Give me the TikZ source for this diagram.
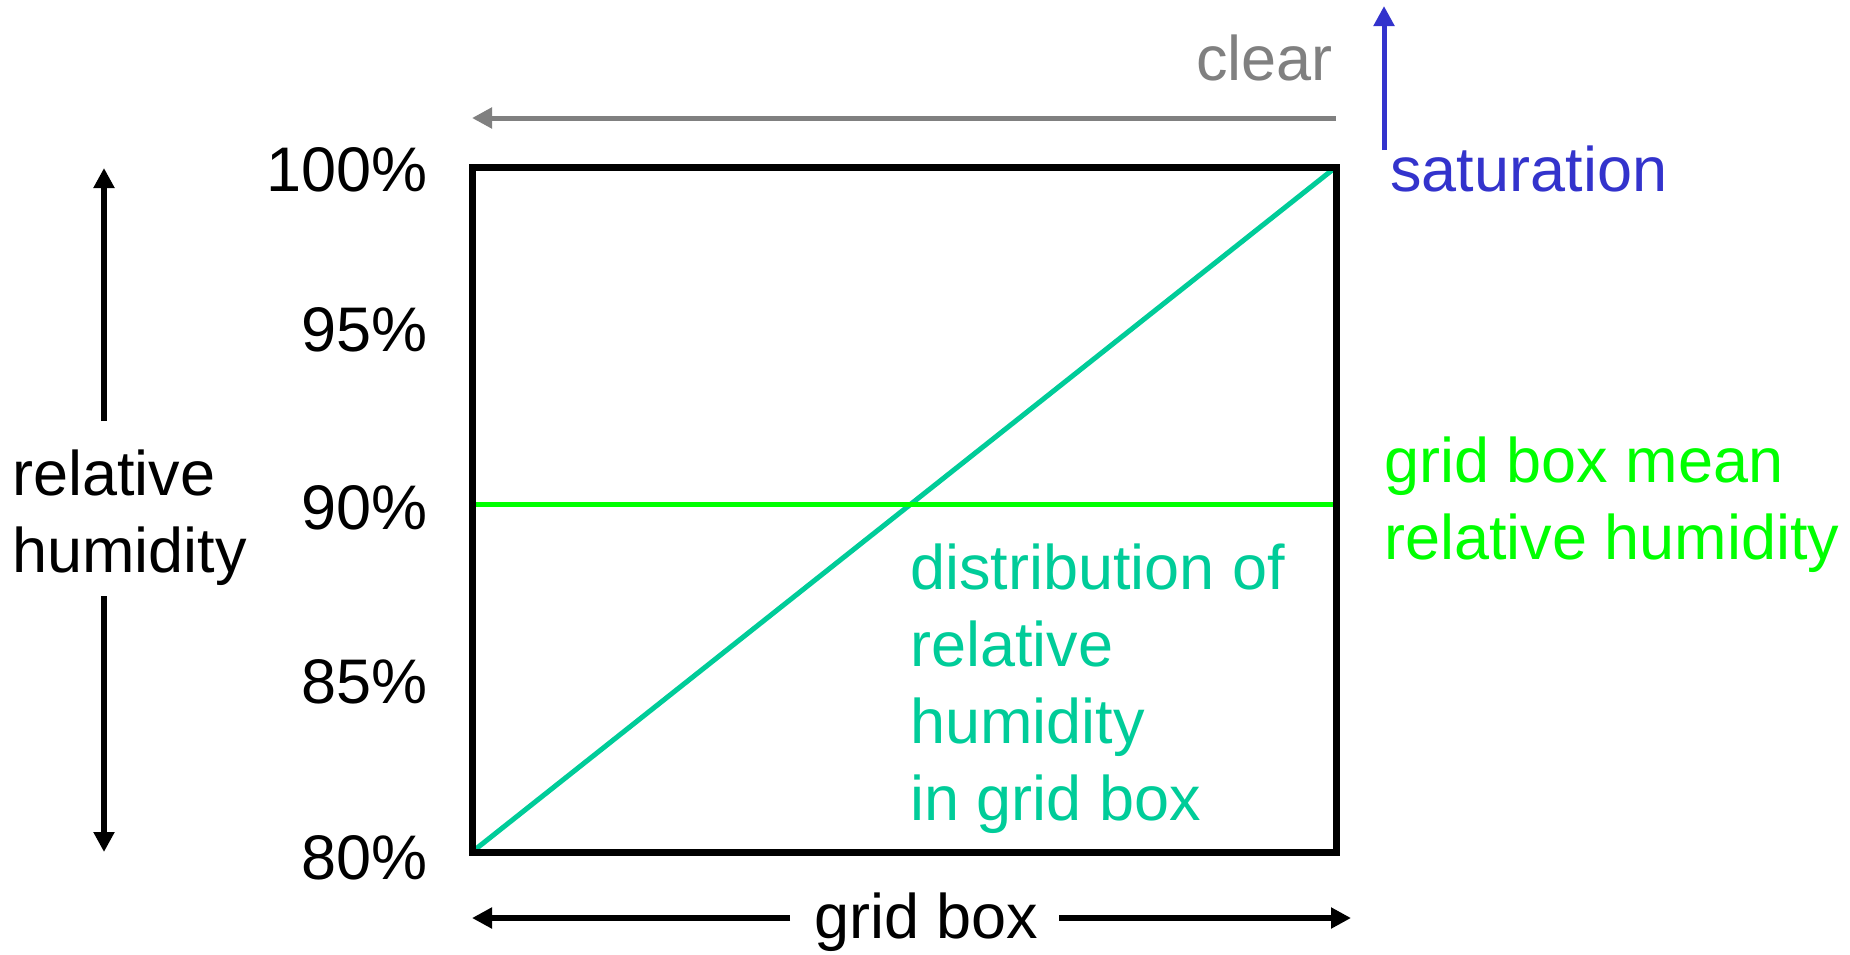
\documentclass[tikz,border=0pt]{standalone}
\usepackage{fontspec}
\setmainfont{Liberation Sans}
\usetikzlibrary{arrows.meta,positioning}
\definecolor{clear grey}{RGB}{128,128,128}
\definecolor{saturation blue}{RGB}{51,51,204}
\definecolor{distribution teal}{RGB}{0,204,153}
\definecolor{mean green}{RGB}{0,255,0}
\tikzset{
   label text/.style={inner sep=0pt, font=\fontsize{31.5}{38.5}\selectfont},
   box line/.style={draw=black, line width=3.5pt, line join=miter},
   axis arrow/.style={line width=3.2pt, -{Triangle[length=10pt,width=10pt]}},
   thin arrow/.style={line width=2.5pt, -{Triangle[length=10pt,width=10pt]}},
   >=latex
}

\begin{document}
\begin{tikzpicture}[x=0.5pt,y=-0.5pt]
  \useasboundingbox (0,0) rectangle (1850,954);

  % grid box
  \coordinate (box sw) at (472,852);
  \coordinate (box ne) at (1336,167);
  \coordinate (mean west) at (472,504);
  \coordinate (mean east) at (1336,504);
  \draw[distribution teal, line width=2.5pt] (box sw) -- (box ne);
  \draw[mean green, line width=2.5pt] (mean west) -- (mean east);
  \draw[box line] (box sw) rectangle (box ne);

  % relative humidity scale
  \foreach \val/\ypos in {100/191,95/351,90/529,85/703,80/879}
    \node[label text, anchor=base east] (rh \val) at (428,\ypos) {\val\%};

  \node[label text, anchor=base west, align=left] (rh label) at (12,572) {relative\\humidity};
  \coordinate (rh top) at (104,168);
  \coordinate (rh upper) at (104,421);
  \coordinate (rh lower) at (104,596);
  \coordinate (rh bottom) at (104,852);
  \draw[axis arrow] (rh upper) -- (rh top);
  \draw[axis arrow] (rh lower) -- (rh bottom);

  % clear / saturation
  \node[label text, anchor=base east, text=clear grey] (clear) at (1333,80) {clear};
  \coordinate (clear start) at (1336,118);
  \coordinate (clear end) at (472,118);
  \draw[thin arrow, clear grey] (clear start) -- (clear end);

  \node[label text, anchor=base west, text=saturation blue] (saturation) at (1390,191) {saturation};
  \coordinate (sat start) at (1384,150);
  \coordinate (sat end) at (1384,6);
  \draw[thin arrow, saturation blue] (sat start) -- (sat end);

  % labels of the two curves
  \node[label text, anchor=base west, align=left, text=mean green] (mean label) at (1384,559) {grid box mean\\relative humidity};
  \node[label text, anchor=base west, align=left, text=distribution teal] (distribution label) at (910,820) {distribution of\\relative\\humidity\\in grid box};

  % grid box width
  \node[label text, anchor=base west] (grid box) at (814,938) {grid box};
  \coordinate (gb left) at (472,918);
  \coordinate (gb left end) at (790,918);
  \coordinate (gb right) at (1351,918);
  \coordinate (gb right start) at (1059,918);
  \draw[axis arrow] (gb left end) -- (gb left);
  \draw[axis arrow] (gb right start) -- (gb right);
\end{tikzpicture}
\end{document}
